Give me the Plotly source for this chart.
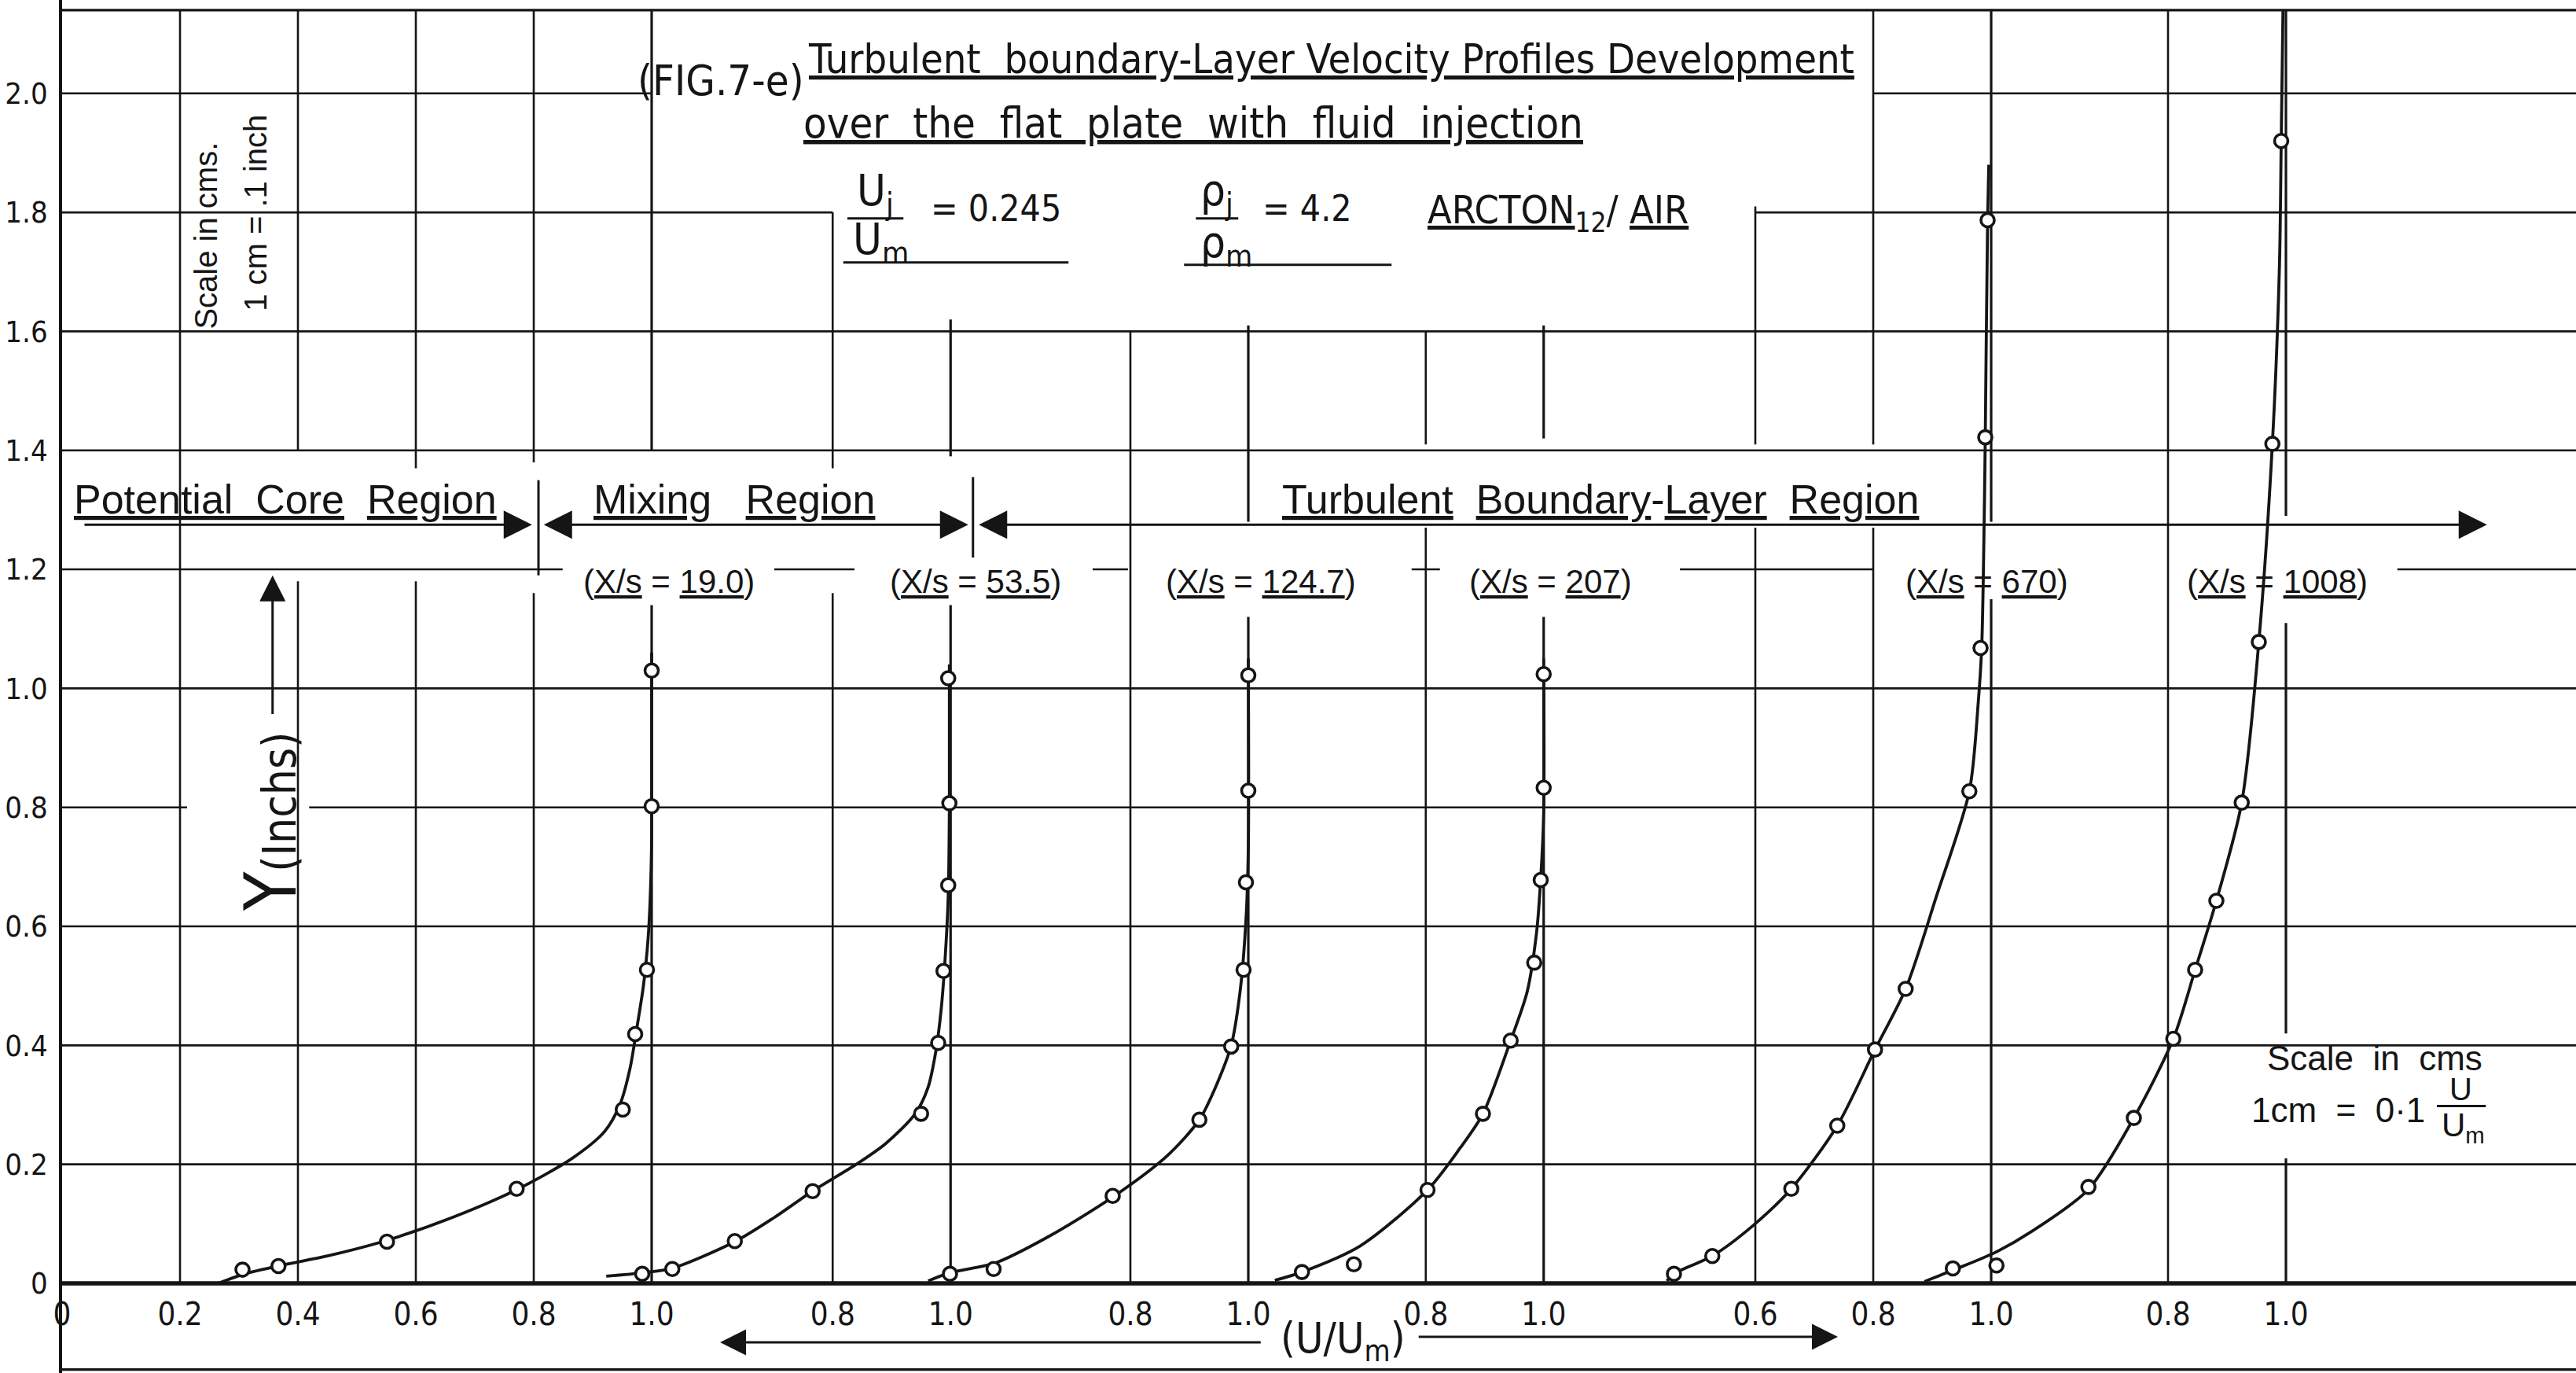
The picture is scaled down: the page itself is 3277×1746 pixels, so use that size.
import plotly.graph_objects as go

INK = "#151515"
NARROW = "DejaVu Sans Condensed, Liberation Sans Narrow, Arial Narrow, sans-serif"
ROUND = "Liberation Sans, Arial, Helvetica, sans-serif"

# ---------------- measured velocity profiles: U/Um against y (inches) ----------------
xs_values = ["19.0", "53.5", "124.7", "207", "670", "1008"]

# X/s = 19.0
p1_u = [0.306, 0.367, 0.551, 0.771, 0.951, 0.972, 0.992, 1.000, 1.000]
p1_y = [0.023, 0.029, 0.070, 0.159, 0.292, 0.419, 0.527, 0.802, 1.030]
p1_fit_u = [0.265, 0.31, 0.37, 0.45, 0.55, 0.66, 0.77, 0.865, 0.92, 0.946, 0.963, 0.975, 0.986, 0.994, 0.998, 1.0, 1.0]
p1_fit_y = [0.0, 0.016, 0.03, 0.046, 0.072, 0.11, 0.157, 0.21, 0.255, 0.30, 0.36, 0.43, 0.50, 0.58, 0.66, 0.75, 1.06]

# X/s = 53.5
p2_u = [0.477, 0.528, 0.634, 0.766, 0.950, 0.979, 0.988, 0.996, 0.998, 0.996]
p2_y = [0.016, 0.024, 0.071, 0.155, 0.285, 0.404, 0.525, 0.669, 0.807, 1.017]
p2_fit_u = [0.416, 0.48, 0.53, 0.634, 0.70, 0.766, 0.84, 0.89, 0.94, 0.962, 0.975, 0.984, 0.991, 0.996, 0.998, 0.998]
p2_fit_y = [0.012, 0.018, 0.026, 0.07, 0.11, 0.155, 0.20, 0.235, 0.285, 0.33, 0.39, 0.46, 0.55, 0.65, 0.80, 1.04]

# X/s = 124.7
p3_u = [0.494, 0.568, 0.770, 0.917, 0.971, 0.992, 0.996, 1.000, 1.000]
p3_y = [0.016, 0.024, 0.147, 0.275, 0.398, 0.527, 0.674, 0.828, 1.022]
p3_fit_u = [0.457, 0.494, 0.57, 0.66, 0.77, 0.863, 0.917, 0.948, 0.971, 0.986, 0.996, 1.0, 1.0]
p3_fit_y = [0.004, 0.018, 0.034, 0.078, 0.145, 0.215, 0.275, 0.338, 0.40, 0.49, 0.61, 0.73, 1.05]

# X/s = 207
p4_u = [0.590, 0.678, 0.803, 0.897, 0.944, 0.984, 0.995, 1.000, 1.000]
p4_y = [0.019, 0.032, 0.157, 0.285, 0.408, 0.539, 0.678, 0.833, 1.024]
p4_fit_u = [0.544, 0.59, 0.689, 0.803, 0.858, 0.897, 0.944, 0.972, 0.988, 0.995, 1.0, 1.0]
p4_fit_y = [0.005, 0.019, 0.063, 0.157, 0.227, 0.285, 0.408, 0.49, 0.59, 0.68, 0.79, 1.05]

# X/s = 670
p5_u = [0.462, 0.527, 0.661, 0.739, 0.803, 0.855, 0.963, 0.982, 0.990, 0.994]
p5_y = [0.016, 0.046, 0.159, 0.265, 0.393, 0.495, 0.827, 1.068, 1.422, 1.787]
p5_fit_u = [0.45, 0.462, 0.527, 0.596, 0.661, 0.739, 0.803, 0.855, 0.907, 0.963, 0.978, 0.984, 0.988, 0.99, 0.994, 0.996]
p5_fit_y = [0.004, 0.016, 0.046, 0.097, 0.159, 0.265, 0.393, 0.495, 0.65, 0.827, 0.975, 1.07, 1.27, 1.42, 1.787, 1.88]

# X/s = 1008
p6_u = [0.435, 0.509, 0.665, 0.742, 0.809, 0.846, 0.882, 0.925, 0.954, 0.977, 0.992]
p6_y = [0.025, 0.030, 0.162, 0.278, 0.411, 0.527, 0.643, 0.808, 1.078, 1.411, 1.920]
p6_fit_u = [0.387, 0.435, 0.507, 0.57, 0.665, 0.742, 0.809, 0.846, 0.882, 0.925, 0.954, 0.977, 0.989, 0.992, 0.995]
p6_fit_y = [0.003, 0.022, 0.052, 0.088, 0.158, 0.278, 0.411, 0.527, 0.643, 0.808, 1.078, 1.411, 1.71, 1.92, 2.14]

profiles = [
    (p1_u, p1_y, p1_fit_u, p1_fit_y),
    (p2_u, p2_y, p2_fit_u, p2_fit_y),
    (p3_u, p3_y, p3_fit_u, p3_fit_y),
    (p4_u, p4_y, p4_fit_u, p4_fit_y),
    (p5_u, p5_y, p5_fit_u, p5_fit_y),
    (p6_u, p6_y, p6_fit_u, p6_fit_y),
]

# U/Um scale labels drawn under each profile
profile_ticks = [[0, 0.2, 0.4, 0.6, 0.8, 1.0], [0.8, 1.0], [0.8, 1.0], [0.8, 1.0], [0.6, 0.8, 1.0], [0.8, 1.0]]

# y scale (inches)
y_ticks = [0, 0.2, 0.4, 0.6, 0.8, 1.0, 1.2, 1.4, 1.6, 1.8, 2.0]
y_tick_text = ["0", "0.2", "0.4", "0.6", "0.8", "1.0", "1.2", "1.4", "1.6", "1.8", "2.0"]

# ---------------- sheet layout ----------------
# the profiles are staggered along one common horizontal scale
profile_shift = [0.0, 0.507, 1.012, 1.513, 2.272, 2.772]
X_END = 4.264
Y_MIN, Y_MAX = -0.1507, 2.157
Y_TOP, Y_BOTTOM = 2.14, -0.145


def gx(k, u):
    return u + profile_shift[k]


fig = go.Figure()
shapes = []
annotations = []


def seg(x0, y0, x1, y1, width=2.6):
    shapes.append(dict(type="line", xref="x", yref="y", x0=x0, y0=y0, x1=x1, y1=y1,
                       line=dict(color=INK, width=width), layer="below"))


# vertical rulings: (profile, U/Um value, [(y_top, y_bottom), ...])
v_rulings = [
    (0, 0.2, [(Y_TOP, 0)]),
    (0, 0.4, [(Y_TOP, 1.40), (1.18, 0)]),
    (0, 0.6, [(Y_TOP, 1.37), (1.18, 0)]),
    (0, 0.8, [(Y_TOP, 1.38), (1.16, 0)]),
    (0, 1.0, [(Y_TOP, 1.40), (1.14, 0)]),
    (1, 0.8, [(1.80, 1.37), (1.16, 0)]),
    (1, 1.0, [(1.62, 1.39), (1.14, 0)]),
    (2, 0.8, [(1.60, 0)]),
    (2, 1.0, [(1.61, 1.28), (1.12, 0)]),
    (3, 0.8, [(1.60, 1.41), (1.27, 0)]),
    (3, 1.0, [(1.61, 1.42), (1.12, 0)]),
    (4, 0.6, [(1.81, 1.41), (1.27, 0)]),
    (4, 0.8, [(Y_TOP, 1.41), (1.27, 0)]),
    (4, 1.0, [(Y_TOP, 1.28), (1.15, 0)]),
    (5, 0.8, [(Y_TOP, 0)]),
    (5, 1.0, [(Y_TOP, 1.29), (1.11, 0.42), (0.21, 0)]),
]
for k, u, spans in v_rulings:
    for ya, yb in spans:
        seg(gx(k, u), ya, gx(k, u), yb, width=3.2 if u == 1.0 else 2.6)

# horizontal rulings: (y, [(x_start, x_end), ...])
h_rulings = [
    (Y_TOP, [(0, X_END)]),
    (2.0, [(0, 1.0), (3.072, X_END)]),
    (1.8, [(0, 1.307), (2.872, X_END)]),
    (1.6, [(0, X_END)]),
    (1.4, [(0, X_END)]),
    (1.2, [(0, 0.849), (1.208, 1.344), (1.748, 1.808), (2.289, 2.337), (2.744, 3.072), (3.961, X_END)]),
    (1.0, [(0, X_END)]),
    (0.8, [(0, 0.212), (0.419, X_END)]),
    (0.6, [(0, X_END)]),
    (0.4, [(0, X_END)]),
    (0.2, [(0, X_END)]),
    (Y_BOTTOM, [(0, X_END)]),
]
for yv, spans in h_rulings:
    for xa, xb in spans:
        seg(xa, yv, xb, yv, width=3.2 if yv in (Y_TOP, Y_BOTTOM) else 2.6)

# the plate (y = 0)
seg(0, 0, X_END, 0, width=5.5)

# region dividers on the region arrow
seg(0.808, 1.35, 0.808, 1.19, width=3)
seg(1.545, 1.355, 1.545, 1.22, width=3)

# ---------------- profiles ----------------
for k, (mu, my, fu, fy) in enumerate(profiles):
    fig.add_trace(go.Scatter(
        x=[gx(k, u) for u in fu], y=fy, mode="lines",
        line=dict(color=INK, width=3.8, shape="spline", smoothing=0.8),
        hoverinfo="skip", showlegend=False))
    fig.add_trace(go.Scatter(
        x=[gx(k, u) for u in mu], y=my, mode="markers",
        marker=dict(symbol="circle", size=17, color="white", line=dict(color=INK, width=3.6)),
        name="X/s = " + xs_values[k], showlegend=False))


# ---------------- lettering ----------------
def ul(s):
    return "<span style='text-decoration:underline'>" + s + "</span>"


def note(x, y, text, size, family=ROUND, angle=0, xanchor="center", yanchor="middle"):
    annotations.append(dict(x=x, y=y, xref="x", yref="y", text=text, showarrow=False,
                            textangle=angle, xanchor=xanchor, yanchor=yanchor,
                            font=dict(family=family, size=size, color=INK)))


def arrow(xh, yh, xt, yt, both=False, size=2.4, width=3):
    d = dict(x=xh, y=yh, ax=xt, ay=yt, xref="x", yref="y", axref="x", ayref="y",
             text="", showarrow=True, arrowhead=2, arrowsize=size, arrowwidth=width,
             arrowcolor=INK, standoff=0)
    if both:
        d.update(arrowside="end+start", startarrowhead=2, startarrowsize=size, startstandoff=0)
    annotations.append(d)


# heading
note(1.117, 2.022, "(FIG.7-e)", 54, NARROW)
note(2.152, 2.058, ul("Turbulent&nbsp;&nbsp;boundary-Layer Velocity Profiles Development"), 52, NARROW)
note(1.918, 1.950, ul("over&nbsp;&nbsp;the&nbsp;&nbsp;flat&nbsp;&nbsp;plate&nbsp;&nbsp;with"
                      "&nbsp;&nbsp;fluid&nbsp;&nbsp;injection"), 54, NARROW)

# velocity ratio Uj/Um = 0.245
note(1.379, 1.833, "U<sub>j</sub>", 56, NARROW)
note(1.388, 1.751, "U<sub>m</sub>", 56, NARROW)
seg(1.332, 1.790, 1.427, 1.790, width=3)
note(1.584, 1.807, "= 0.245", 46, NARROW)
seg(1.325, 1.716, 1.707, 1.716, width=3)

# density ratio rho_j/rho_m = 4.2
note(1.959, 1.833, "ρ<sub>j</sub>", 56, NARROW)
note(1.975, 1.745, "ρ<sub>m</sub>", 56, NARROW)
seg(1.923, 1.790, 1.995, 1.790, width=3)
note(2.112, 1.807, "= 4.2", 46, NARROW)
seg(1.903, 1.712, 2.255, 1.712, width=3)

note(2.313, 1.800, ul("ARCTON") + "<sub>12</sub>/ " + ul("AIR"), 50, NARROW, xanchor="left")

# scale notes
note(0.244, 1.761, "Scale in cms.", 40, ROUND, angle=-90)
note(0.328, 1.799, "1 cm = .1 inch", 40, ROUND, angle=-90)
note(3.923, 0.378, "Scale&nbsp;&nbsp;in&nbsp;&nbsp;cms", 44, ROUND)
note(3.861, 0.291, "1cm&nbsp;&nbsp;=&nbsp;&nbsp;0·1", 44, ROUND)
note(4.068, 0.327, "U", 40, ROUND)
note(4.072, 0.262, "U<sub>m</sub>", 42, ROUND)
seg(4.028, 0.298, 4.111, 0.298, width=3)

# flow regions
REGION_Y = 1.318
note(0.379, REGION_Y, ul("Potential&nbsp;&nbsp;Core") + "&nbsp;&nbsp;" + ul("Region"), 52, ROUND)
note(1.14, REGION_Y, ul("Mixing") + "&nbsp;&nbsp;&nbsp;" + ul("Region"), 52, ROUND)
note(2.609, REGION_Y, ul("Turbulent") + "&nbsp;&nbsp;" + ul("Boundary") + "-" + ul("Layer")
     + "&nbsp;&nbsp;" + ul("Region"), 52, ROUND)
ARROW_Y = 1.275
arrow(0.797, ARROW_Y, 0.036, ARROW_Y)
arrow(1.537, ARROW_Y, 0.815, ARROW_Y, both=True)
arrow(4.113, ARROW_Y, 1.553, ARROW_Y, both=True)

# station labels
label_x = [1.029, 1.549, 2.033, 2.525, 3.264, 3.757]
for k, v in enumerate(xs_values):
    note(label_x[k], 1.18, "(" + ul("X/s") + " = " + ul(v) + ")", 42, ROUND)

# axis names with their arrows
note(0.355, 0.776, "<span style='font-size:90px'>Y</span>(Inchs)", 58, NARROW, angle=-90)
arrow(0.357, 1.19, 0.357, 0.955, size=2.2)
note(2.172, -0.097, "(U/U<sub>m</sub>)", 54, NARROW)
arrow(1.116, -0.099, 2.035, -0.099, size=2.2)
arrow(3.012, -0.090, 2.299, -0.090, size=2.2)

# ---------------- axes ----------------
x_tickvals, x_ticktext = [], []
for k, ticks in enumerate(profile_ticks):
    for t in ticks:
        x_tickvals.append(gx(k, t))
        x_ticktext.append("0" if t == 0 else f"{t:.1f}")

fig.update_layout(
    width=3277, height=1746,
    margin=dict(l=79, r=0, t=0, b=0),
    paper_bgcolor="white", plot_bgcolor="white",
    showlegend=False,
    xaxis=dict(range=[0, X_END], anchor="free", position=(0 - Y_MIN) / (Y_MAX - Y_MIN),
               showgrid=False, zeroline=False, showline=False, ticks="",
               tickvals=x_tickvals, ticktext=x_ticktext, ticklabelstandoff=12,
               tickfont=dict(family=NARROW, size=40, color=INK), automargin=False, fixedrange=True),
    yaxis=dict(range=[Y_MIN, Y_MAX], showgrid=False, zeroline=False, showline=True,
               linecolor=INK, linewidth=3.5, ticks="",
               tickvals=y_ticks, ticktext=y_tick_text, ticklabelstandoff=7,
               tickfont=dict(family=NARROW, size=38, color=INK), automargin=False, fixedrange=True),
    shapes=shapes,
    annotations=annotations,
)

fig.write_html("out.html")
